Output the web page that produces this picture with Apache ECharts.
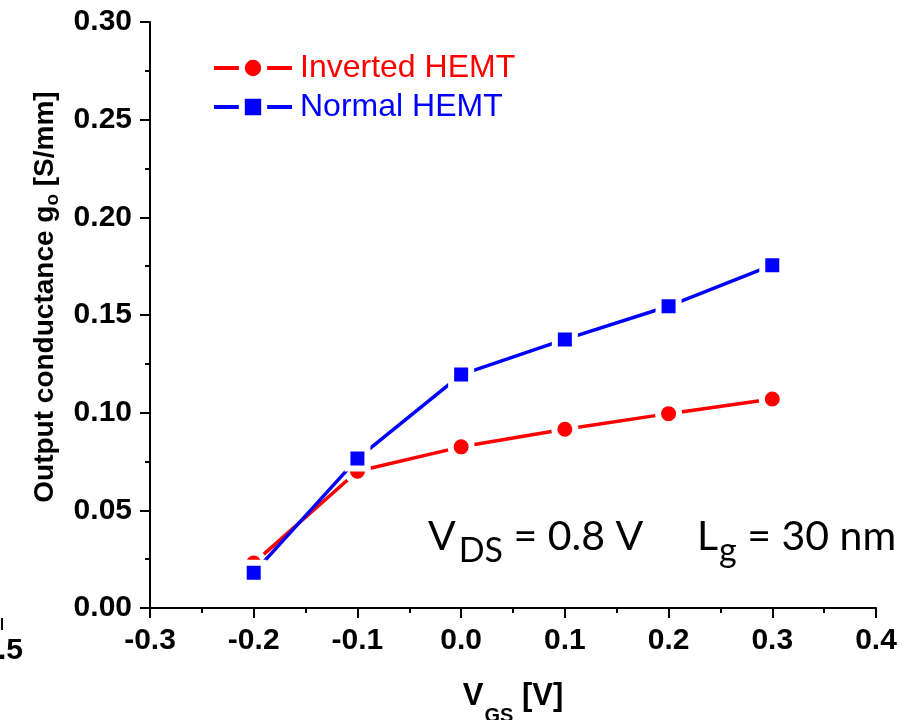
<!DOCTYPE html>
<html>
<head>
<meta charset="utf-8">
<script src="https://cdn.jsdelivr.net/npm/echarts@6/dist/echarts.min.js"></script>
<style>
  html, body { margin: 0; padding: 0; background: #fff; }
  #chart { width: 922px; height: 720px; }
</style>
</head>
<body>
<div id="chart"></div>
<script>
// Gate voltage sweep (V)
const vgs = [-0.2, -0.1, 0.0, 0.1, 0.2, 0.3];
// Output conductance g_o (S/mm)
const invertedHemt = [0.023, 0.070, 0.0825, 0.0915, 0.0995, 0.107];
const normalHemt = [0.018, 0.0765, 0.1195, 0.1375, 0.1545, 0.1755];

const seriesNames = ['Inverted HEMT', 'Normal HEMT'];
const seriesColors = ['#ff0000', '#0000ff'];

const axisFont = 'Liberation Sans, Arial, sans-serif';
const noteFont = 'Lato, sans-serif';

const chart = echarts.init(document.getElementById('chart'), null, { renderer: 'canvas' });

function pairs(xs, ys) {
  return xs.map((x, i) => [x, ys[i]]);
}

const option = {
  backgroundColor: '#ffffff',
  animation: false,
  grid: { left: 150, right: 46, top: 22, bottom: 112, containLabel: false, outerBoundsMode: 'none' },
  legend: {
    left: 212,
    top: 52,
    padding: 0,
    orient: 'vertical',
    itemWidth: 78,
    itemHeight: 28,
    itemGap: 7,
    itemStyle: { borderColor: '#fff', borderWidth: 6 },
    lineStyle: { width: 4 },
    textStyle: { fontFamily: axisFont, fontSize: 32, padding: [0, 0, 0, 3] },
    data: [
      { name: seriesNames[0], textStyle: { color: seriesColors[0] } },
      { name: seriesNames[1], textStyle: { color: seriesColors[1] } }
    ]
  },
  xAxis: {
    type: 'value',
    min: -0.3,
    max: 0.4,
    interval: 0.1,
    name: '{v|V}{s|GS}{v| [V]}',
    nameLocation: 'middle',
    nameGap: 58,
    nameTextStyle: {
      rich: {
        v: { fontFamily: axisFont, fontWeight: 'bold', fontSize: 31, color: '#000' },
        s: { fontFamily: axisFont, fontWeight: 'bold', fontSize: 20, color: '#000', padding: [40, 0, 0, 1] }
      }
    },
    axisLine: { onZero: false, lineStyle: { color: '#000', width: 2 } },
    axisTick: { inside: false, length: 10, lineStyle: { color: '#000', width: 2 } },
    minorTick: { show: true, splitNumber: 2, length: 5, lineStyle: { color: '#000', width: 2 } },
    splitLine: { show: false },
    axisLabel: {
      margin: 18,
      fontFamily: axisFont, fontWeight: 'bold', fontSize: 30, color: '#000',
      formatter: v => v.toFixed(1)
    }
  },
  yAxis: {
    type: 'value',
    min: 0,
    max: 0.30,
    interval: 0.05,
    name: '{v|Output conductance g}{s|o}{v| [S/mm]}',
    nameLocation: 'middle',
    nameGap: 69,
    nameRotate: 90,
    nameTextStyle: {
      padding: [0, 0, 0, 36],
      rich: {
        v: { fontFamily: axisFont, fontWeight: 'bold', fontSize: 28, color: '#000' },
        s: { fontFamily: axisFont, fontWeight: 'bold', fontSize: 19, color: '#000', padding: [16, 0, 0, 0] }
      }
    },
    axisLine: { show: true, onZero: false, lineStyle: { color: '#000', width: 2 } },
    axisTick: { show: true, inside: false, length: 10, lineStyle: { color: '#000', width: 2 } },
    minorTick: { show: true, splitNumber: 2, length: 5, lineStyle: { color: '#000', width: 2 } },
    splitLine: { show: false },
    axisLabel: {
      margin: 18,
      fontFamily: axisFont, fontWeight: 'bold', fontSize: 30, color: '#000',
      formatter: v => v.toFixed(2)
    }
  },
  series: [
    {
      name: seriesNames[0],
      type: 'line',
      data: pairs(vgs, invertedHemt),
      symbol: 'circle',
      symbolSize: 21,
      color: seriesColors[0],
      lineStyle: { width: 3.5, color: seriesColors[0] },
      itemStyle: { color: seriesColors[0], borderColor: '#fff', borderWidth: 6 },
      z: 2
    },
    {
      name: seriesNames[1],
      type: 'line',
      data: pairs(vgs, normalHemt),
      symbol: 'rect',
      symbolSize: 20,
      color: seriesColors[1],
      lineStyle: { width: 3.5, color: seriesColors[1] },
      itemStyle: { color: seriesColors[1], borderColor: '#fff', borderWidth: 6 },
      z: 3
    }
  ],
  graphic: [
    {
      type: 'text', left: 428, top: 516,
      style: {
        text: '{m|V}{s|DS}{m| = 0.8 V}',
        rich: {
          m: { fontFamily: noteFont, fontSize: 41, fill: '#000' },
          s: { fontFamily: noteFont, fontSize: 34, fill: '#000', padding: [30, 0, 0, 3] }
        }
      }
    },
    {
      type: 'text', left: 697, top: 516,
      style: {
        text: '{m|L}{s|g}{m| = 30 nm}',
        rich: {
          m: { fontFamily: noteFont, fontSize: 41, fill: '#000' },
          s: { fontFamily: noteFont, fontSize: 34, fill: '#000', padding: [30, 0, 0, 1] }
        }
      }
    },
    // neighbouring panel's axis fragment at the left edge
    {
      type: 'text', right: 899, top: 636,
      style: { text: '1.5', fontFamily: axisFont, fontWeight: 'bold', fontSize: 30, fill: '#000' }
    },
    {
      type: 'line', shape: { x1: 2, y1: 618, x2: 2, y2: 630 },
      style: { stroke: '#000', lineWidth: 2 }
    }
  ]
};

chart.setOption(option);
</script>
</body>
</html>
